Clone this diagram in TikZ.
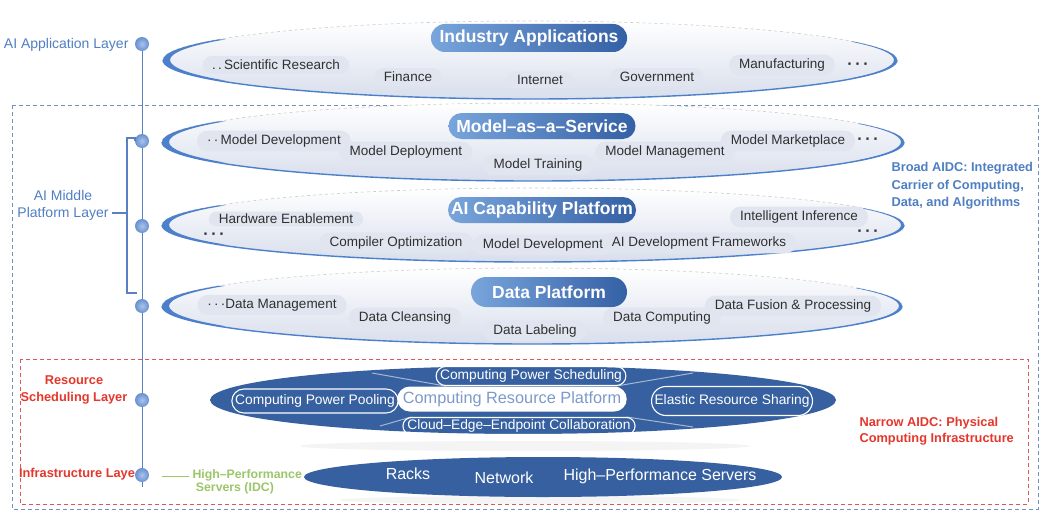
\documentclass[tikz,border=0pt]{standalone}
\usepackage{fontspec}
\setmainfont{Liberation Sans}
\usetikzlibrary{shapes.misc,shapes.geometric}
\definecolor{layerblue}{HTML}{4F7FC3}
\definecolor{linkblue}{HTML}{5A80C2}
\definecolor{rimblue}{HTML}{4C80CB}
\definecolor{ellbot}{HTML}{D8DEEC}
\definecolor{pillfill}{HTML}{E0E5EF}
\definecolor{titleL}{HTML}{79A5DC}
\definecolor{titleR}{HTML}{3460A5}
\definecolor{darkL}{HTML}{36609F}
\definecolor{darkM}{HTML}{4D7CBC}
\definecolor{redlab}{HTML}{E5372C}
\definecolor{reddash}{HTML}{E05555}
\definecolor{bluedash}{HTML}{7090C0}
\definecolor{greenlab}{HTML}{9CC66A}
\definecolor{textgray}{HTML}{303030}
\definecolor{platformtext}{HTML}{7C9ACB}
\definecolor{dotin}{HTML}{A9C4EC}
\definecolor{dotout}{HTML}{6990CF}

\newcommand\lightlayer[4]{%
  \shade[top color=white, bottom color=ellbot] (#1,#2) ellipse[x radius=#3pt, y radius=#4pt];
  \draw[dashed, gray!40, line width=0.6pt] (#1,#2) ++(0:#3pt and #4pt) arc[start angle=0, end angle=180, x radius=#3pt, y radius=#4pt];
  \draw[rimblue, line width=1.4pt] (#1,#2) ++(180:#3pt and #4pt) arc[start angle=180, end angle=360, x radius=#3pt, y radius=#4pt];
  \fill[rimblue] (#1,#2) ++(148:#3pt and #4pt) arc[start angle=148, end angle=212, x radius=#3pt, y radius=#4pt] -- ++(7pt,0pt) arc[start angle=212, end angle=148, x radius=#3pt, y radius=#4pt] -- cycle;
  \fill[rimblue] (#1,#2) ++(-28:#3pt and #4pt) arc[start angle=-28, end angle=28, x radius=#3pt, y radius=#4pt] -- ++(-3pt,0pt) arc[start angle=28, end angle=-28, x radius=#3pt, y radius=#4pt] -- cycle;
}

\begin{document}
\begin{tikzpicture}[x=1pt,y=-1pt,
  item/.style={shape=rounded rectangle, fill=pillfill, inner xsep=8pt, inner ysep=4pt, text=textgray, font=\fontsize{13.5}{15}\selectfont},
  plaindots/.style={text=textgray, font=\fontsize{16}{16}\selectfont\bfseries, inner sep=0.5pt},
  titlepill/.style={shape=rounded rectangle, left color=titleL, right color=titleR, text=white, font=\fontsize{17.5}{19}\selectfont\bfseries, minimum height=28pt, inner xsep=6pt},
  ring/.style={shape=rounded rectangle, draw=white, line width=1.1pt, text=white, font=\fontsize{13.8}{15}\selectfont, inner xsep=1.5pt, inner ysep=2pt},
  infratext/.style={text=white, font=\fontsize{16}{18}\selectfont},
  dotnode/.style={circle, inner sep=0pt, minimum size=14pt, inner color=dotin, outer color=dotout},
  vline/.style={draw=linkblue, line width=1pt},
  link/.style={draw=linkblue, line width=1.8pt},
  ray/.style={draw=white, opacity=0.55, line width=1pt},
  bluelab/.style={text=layerblue, font=\fontsize{14}{17}\selectfont},
  redlabel/.style={text=redlab, font=\fontsize{12.8}{16.5}\selectfont\bfseries},
]
\useasboundingbox (0,0) rectangle (1056,527);
\fill[white] (0,0) rectangle (1056,527);

% dashed frames
\draw[bluedash, line width=0.8pt, dash pattern=on 4pt off 3pt] (12,105) rectangle (1038,509);
\draw[reddash, line width=0.8pt, dash pattern=on 4pt off 3pt] (20,359) rectangle (1028,504);

% light layers
\lightlayer{530}{60}{367}{39}
\lightlayer{533}{142}{371}{39}
\lightlayer{533}{225}{371}{37}
\lightlayer{532}{306}{370}{38}

% Application layer
\node[titlepill, minimum width=188pt] (t1) at (529,38) {Industry Applications};
\node[item] (sci) at (276,65) {.\,.\,Scientific Research};
\node[item] (fin) at (408,77) {Finance};
\node[item] (inet) at (540,80) {Internet};
\node[item] (gov) at (657,77) {Government};
\node[item] (manu) at (782,65) {Manufacturing};
\node[plaindots] (adots) at (858,66) {·\,·\,·};

% Model-as-a-Service
\node[titlepill, minimum width=199pt, minimum height=26pt] (t2) at (542,126) {Model–as–a–Service};
\node[item] (mdev) at (274,141) {·\,·\,Model Development};
\node[item] (mdep) at (406,152) {Model Deployment};
\node[item] (mtrain) at (538,165) {Model Training};
\node[item] (mman) at (665,152) {Model Management};
\node[item] (mmkt) at (788,141) {Model Marketplace};
\node[plaindots] (mdots) at (868,141) {·\,·\,·};

% AI Capability Platform
\node[titlepill, minimum width=200pt, minimum height=26pt] (t3) at (542,210) {AI Capability Platform};
\node[item, inner ysep=2.5pt] (hw) at (286,219) {Hardware Enablement};
\node[plaindots] (cdotsl) at (214,236) {·\,·\,·};
\node[item] (comp) at (396,243) {Compiler Optimization};
\node[item] (cmdev) at (543,245) {Model Development};
\node[item] (aidf) at (699,243) {AI Development Frameworks};
\node[item] (inf) at (799,217) {Intelligent Inference};
\node[plaindots] (cdotsr) at (868,233) {·\,·\,·};

% Data Platform
\node[titlepill, minimum width=168pt, minimum height=30pt] (t4) at (549,292) {Data Platform};
\node[item] (dman) at (272,305) {·\,·\,·Data Management};
\node[item] (dcl) at (405,318) {Data Cleansing};
\node[item] (dlab) at (535,331) {Data Labeling};
\node[item] (dcomp) at (662,318) {Data Computing};
\node[item] (dfus) at (793,306) {Data Fusion \& Processing};

% Resource scheduling layer
\fill[gray!9] (525,446) ellipse[x radius=225pt, y radius=5pt];
\shade[left color=darkL, middle color=darkM, right color=darkL] (523,400) ellipse[x radius=313pt, y radius=34pt];
\node[shape=rounded rectangle, fill=white, text=platformtext, font=\fontsize{16.3}{18}\selectfont, inner xsep=3pt, minimum height=25pt] (plat) at (512,399) {Computing Resource Platform};
\node[ring, minimum height=24pt] (pool) at (315,401) {Computing Power Pooling};
\node[ring, minimum height=19pt] (sched) at (531,376) {Computing Power Scheduling};
\node[ring, minimum height=17pt] (cloud) at (519,426) {Cloud–Edge–Endpoint Collaboration};
\node[ring, minimum height=29pt] (elastic) at (732,401) {Elastic Resource Sharing};
\coordinate (r1) at (372,373);
\coordinate (r2) at (693,373);
\coordinate (r3) at (380,426);
\coordinate (r4) at (693,427);
\draw[ray] (r1) -- (sched.south west);
\draw[ray] (r2) -- (sched.south east);
\draw[ray] (r3) -- (cloud.north west);
\draw[ray] (r4) -- (cloud.north east);

% Infrastructure layer
\fill[gray!8] (540,500) ellipse[x radius=200pt, y radius=4pt];
\shade[left color=darkL, middle color=darkM, right color=darkL] (543,477) ellipse[x radius=239pt, y radius=20pt];
\node[infratext] (racks) at (408,474) {Racks};
\node[infratext] (net) at (504,478) {Network};
\node[infratext] (hps) at (660,476) {High–Performance Servers};

% left axis
\node[dotnode] (d1) at (142,44) {};
\node[dotnode] (d2) at (142,141) {};
\node[dotnode] (d3) at (142,226) {};
\node[dotnode] (d4) at (142,306) {};
\node[dotnode] (d5) at (142,400) {};
\node[dotnode] (d6) at (142,475) {};
\coordinate (vend) at (142,487);
\draw[vline] (d1.south) -- (d2.north);
\draw[vline] (d2.south) -- (d3.north);
\draw[vline] (d3.south) -- (d4.north);
\draw[vline] (d4.south) -- (d5.north);
\draw[vline] (d5.south) -- (d6.north);
\draw[vline] (d6.south) -- (vend);

% bracket for middle platform layer
\coordinate (bt) at (127,138);
\coordinate (bb) at (127,293);
\coordinate (be) at (137,293);
\draw[link] (d2.west) -- (d2.west |- bt) -- (bt) -- (bb) -- (be);

% left labels
\node[bluelab, anchor=east] (lapp) at (132,45) {AI Application Layer};
\node[bluelab, align=center] (lmid) at (63,205) {AI Middle\\Platform Layer};
\draw[link] (lmid.east |- 0,213) -- (bb |- 0,213);
\node[redlabel, align=center] (lres) at (74,390) {Resource\\Scheduling Layer};
\node[redlabel] (linf) at (77,474) {Infrastructure Laye};
\coordinate (gl1) at (162,476);
\node[text=greenlab, font=\fontsize{12.3}{13}\selectfont\bfseries, align=left, anchor=west] (lidc) at (189,482) {High–Performance\\\ Servers (IDC)};
\draw[greenlab, line width=1pt] (gl1) -- (lidc.west |- gl1);

% right labels
\node[text=layerblue, font=\fontsize{12.8}{17.5}\selectfont\bfseries, align=left, anchor=west] (lbroad) at (888,186) {Broad AIDC: Integrated\\Carrier of Computing,\\Data, and Algorithms};
\node[redlabel, align=left, anchor=west] (lnarrow) at (856,431) {Narrow AIDC: Physical\\Computing Infrastructure};
\end{tikzpicture}
\end{document}
